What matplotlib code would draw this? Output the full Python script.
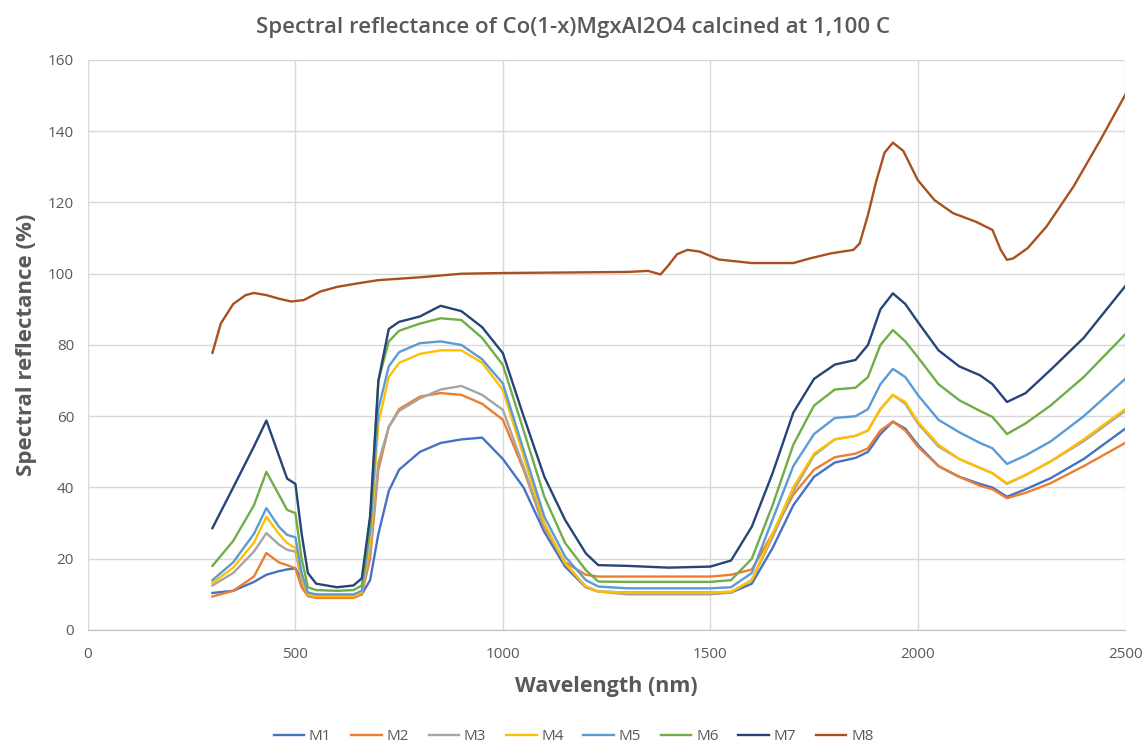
import matplotlib
matplotlib.use("Agg")
import matplotlib.pyplot as plt

# ---------------- data ----------------
wl = [300, 350, 400, 430, 460, 480, 500, 515, 530, 550, 600, 640, 660, 680, 700, 725, 750,
      800, 850, 900, 950, 1000, 1050, 1100, 1150, 1200, 1230, 1300, 1400, 1500, 1550, 1600,
      1650, 1700, 1750, 1800, 1850, 1880, 1910, 1940, 1970, 2000, 2050, 2100, 2150, 2180,
      2215, 2260, 2320, 2400, 2500]

M1 = [10.4, 11, 13.5, 15.5, 16.5, 17, 17.3, 14, 10, 9.5, 9.5, 9.5, 10, 14, 27, 39, 45,
      50, 52.5, 53.5, 54, 48, 40, 27.5, 17.8, 12, 10.8, 10.5, 10.5, 10.5, 10.5, 13,
      23, 35, 43, 47, 48.3, 50, 55, 58.5, 56.5, 52, 46, 43, 41, 40,
      37.4, 39.5, 42.6, 48, 56.5]
M2 = [9.4, 11, 15, 21.6, 19, 18.2, 17.3, 12, 9.5, 9, 9, 9, 10, 20, 45, 57, 62,
      65.5, 66.5, 66, 63.5, 59, 45, 28.6, 19, 15.5, 15, 15, 15, 15, 15.5, 17,
      27, 38, 45, 48.5, 49.5, 51, 56, 58.5, 56, 51.5, 46, 43, 40.5, 39.5,
      37, 38.5, 41.2, 46, 52.5]
M3 = [12.5, 16, 22, 27.2, 24, 22.5, 22, 14, 10, 9.5, 9.5, 9.5, 10.5, 22, 47, 57, 61.5,
      65, 67.5, 68.5, 66, 61.8, 45.8, 29, 18.7, 12.2, 10.8, 10, 10, 10, 10.5, 14,
      26, 39, 49, 53.5, 54.5, 56, 62, 66, 63.5, 58, 51.5, 48, 45.5, 44,
      41, 43.5, 47.3, 53, 61.5]
M4 = [13.2, 17.5, 24.5, 31.8, 27, 24.4, 23, 15, 10, 9.5, 9.5, 9.5, 10.5, 25, 58, 71, 75,
      77.5, 78.5, 78.5, 75, 67.4, 48.7, 30, 18.7, 12.2, 10.8, 10.5, 10.5, 10.5, 10.8, 14,
      27, 40, 49.5, 53.5, 54.5, 56, 62, 66, 64, 58.5, 52, 48, 45.5, 44,
      41.2, 43.5, 47.3, 53.5, 62]
M5 = [14, 19, 27, 34.2, 29, 26.7, 26, 16, 10.5, 10, 10, 10, 11, 28, 62, 74, 78,
      80.5, 81, 80, 76, 69.2, 50.5, 31.8, 20.6, 14, 12.2, 11.7, 11.7, 11.7, 12, 16,
      31, 46, 55, 59.5, 60, 62, 69, 73.3, 71, 66, 59, 55.5, 52.5, 51,
      46.6, 49, 52.9, 60, 70.5]
M6 = [18, 25, 35, 44.4, 38, 33.7, 32.8, 20, 12, 11.2, 11, 11.2, 12.5, 30, 70, 81, 84,
      86, 87.5, 87, 82, 74.4, 56, 37.4, 24.4, 16.8, 13.6, 13.5, 13.5, 13.5, 14, 20,
      35, 52, 63, 67.5, 68, 71, 80, 84.2, 81, 76.6, 69, 64.5, 61.5, 59.8,
      55, 58, 63, 71, 83]
M7 = [28.6, 40, 51.5, 58.8, 49, 42.5, 41, 27, 16, 13, 12, 12.5, 14.5, 32, 70, 84.5, 86.5,
      88, 91, 89.5, 85, 77.7, 60, 43, 30.9, 21.5, 18.2, 18, 17.5, 17.8, 19.5, 29,
      44, 61, 70.5, 74.5, 75.8, 80, 90, 94.5, 91.5, 86.5, 78.5, 74, 71.5, 69,
      64, 66.5, 73, 82, 96.5]

wl8 = [300, 320, 350, 380, 400, 430, 460, 490, 520, 560, 600, 650, 700, 750, 800, 850, 900,
       1000, 1100, 1200, 1300, 1350, 1380, 1400, 1420, 1445, 1475, 1520, 1600, 1700, 1740,
       1790, 1845, 1860, 1880, 1900, 1920, 1940, 1965, 2000, 2040, 2085, 2140, 2180, 2200,
       2215, 2230, 2265, 2310, 2375, 2440, 2500]
M8 = [77.8, 86, 91.5, 94, 94.6, 94, 93, 92.2, 92.6, 95, 96.3, 97.3, 98.2, 98.6, 99, 99.5, 100,
      100.2, 100.3, 100.4, 100.5, 100.8, 99.8, 102.5, 105.5, 106.7, 106.2, 104, 103, 103, 104.3,
      105.7, 106.7, 108.5, 116.5, 126, 134, 136.8, 134.5, 126.3, 120.7, 117, 114.6, 112.3, 106.7,
      103.9, 104.3, 107.2, 113.2, 124.4, 137.5, 150.2]

labels = ["M1", "M2", "M3", "M4", "M5", "M6", "M7", "M8"]
colors = ["#4472C4", "#ED7D31", "#A5A5A5", "#FFC000", "#5B9BD5", "#70AD47", "#264478", "#A9511E"]

x_ticks = [0, 500, 1000, 1500, 2000, 2500]
y_ticks = [0, 20, 40, 60, 80, 100, 120, 140, 160]

# ---------------- plot ----------------
plt.rcParams['font.family'] = ['Open Sans', 'DejaVu Sans']
fig = plt.figure(figsize=(11.47, 7.46), dpi=100)
ax = fig.add_axes([0.0767, 0.1555, 0.9043, 0.7641])

series = [(wl, M1), (wl, M2), (wl, M3), (wl, M4), (wl, M5), (wl, M6), (wl, M7), (wl8, M8)]
handles = []
for (xs, ys), lab, c in zip(series, labels, colors):
    h, = ax.plot(xs, ys, color=c, lw=1.7, label=lab, solid_joinstyle='round')
    handles.append(h)

ax.set_xlim(0, 2500)
ax.set_ylim(0, 160)
ax.set_xticks(x_ticks)
ax.set_yticks(y_ticks)
ax.grid(True, color="#D9D9D9", lw=1.0)
ax.set_axisbelow(True)
for s in ["top", "right"]:
    ax.spines[s].set_visible(False)
ax.spines["left"].set_color("#D9D9D9")
ax.spines["bottom"].set_color("#BFBFBF")
ax.tick_params(axis='both', length=0, labelsize=11, colors="#595959")
ax.tick_params(axis='x', pad=12)
ax.tick_params(axis='y', pad=10)

fig.text(0.5, 1 - 28 / 746, "Spectral reflectance of Co(1-x)MgxAl2O4 calcined at 1,100 C",
         ha='center', va='center', fontsize=16, color="#595959", fontweight='semibold')
ax.set_xlabel("Wavelength (nm)", fontsize=15.5, color="#595959", fontweight='bold', labelpad=10)
ax.set_ylabel("Spectral reflectance (%)", fontsize=16, color="#595959", fontweight='bold', labelpad=8)

leg = fig.legend(handles=handles, labels=labels, loc='center', bbox_to_anchor=(0.5, 1 - 737 / 746),
                 ncol=8, frameon=False, fontsize=11, handlelength=2.0, handletextpad=0.3,
                 columnspacing=1.3)
for t in leg.get_texts():
    t.set_color("#595959")

fig.savefig("out.png", dpi=100)
